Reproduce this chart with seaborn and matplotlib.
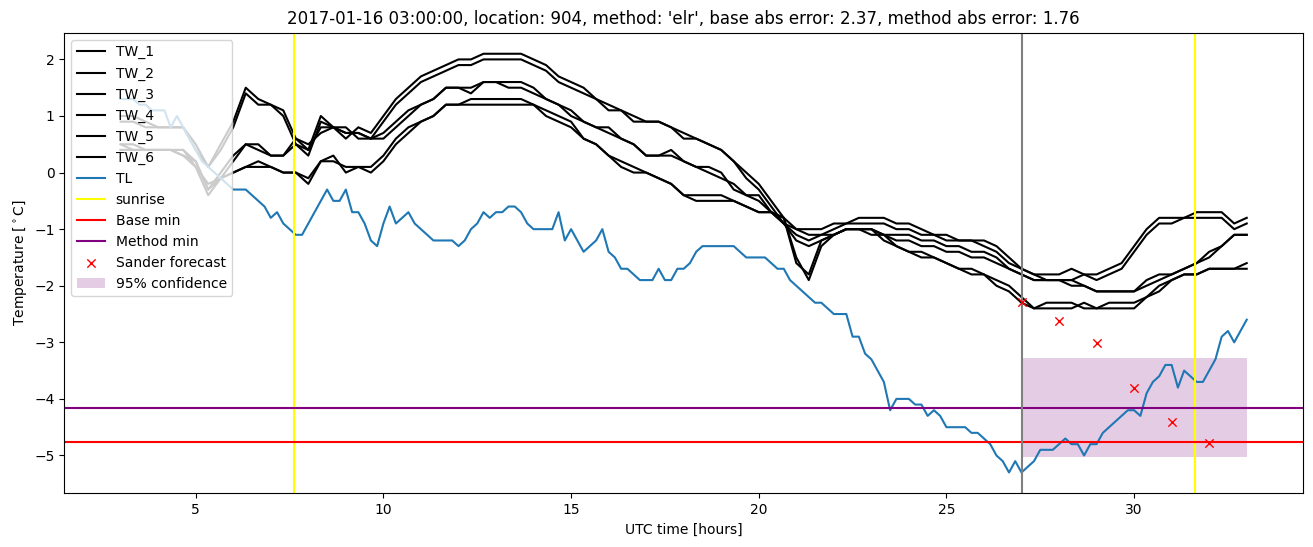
import numpy as np
import matplotlib
matplotlib.use('Agg')
import matplotlib.pyplot as plt
import seaborn as sns

# time grids (hours, UTC)
tl_hours = np.round(np.arange(3, 33 + 1e-9, 1 / 6), 3)
tw_hours = np.round(np.arange(3, 33 + 1e-9, 1 / 3), 3)

# air temperature, 10 min steps
tl = [1.3, 1.3, 1.3, 1.2, 1.2, 1.1,
      1.1, 1.1, 0.8, 1.0, 0.8, 0.6,
      0.4, 0.2, 0.1, 0.0, -0.1, -0.2,
      -0.3, -0.3, -0.3, -0.4, -0.5, -0.6,
      -0.8, -0.7, -0.9, -1.0, -1.1, -1.1,
      -0.9, -0.7, -0.5, -0.3, -0.5, -0.5,
      -0.3, -0.7, -0.7, -0.9, -1.2, -1.3,
      -0.9, -0.6, -0.9, -0.8, -0.7, -0.9,
      -1.0, -1.1, -1.2, -1.2, -1.2, -1.2,
      -1.3, -1.2, -1.0, -0.9, -0.7, -0.8,
      -0.7, -0.7, -0.6, -0.6, -0.7, -0.9,
      -1.0, -1.0, -1.0, -1.0, -0.7, -1.2,
      -1.0, -1.2, -1.4, -1.3, -1.2, -1.0,
      -1.4, -1.5, -1.7, -1.7, -1.8, -1.9,
      -1.9, -1.9, -1.7, -1.9, -1.9, -1.7,
      -1.7, -1.6, -1.4, -1.3, -1.3, -1.3,
      -1.3, -1.3, -1.3, -1.4, -1.5, -1.5,
      -1.5, -1.5, -1.6, -1.7, -1.7, -1.9,
      -2.0, -2.1, -2.2, -2.3, -2.3, -2.4,
      -2.5, -2.5, -2.5, -2.9, -2.9, -3.2,
      -3.3, -3.5, -3.7, -4.2, -4.0, -4.0,
      -4.0, -4.1, -4.1, -4.3, -4.2, -4.3,
      -4.5, -4.5, -4.5, -4.5, -4.6, -4.6,
      -4.7, -4.8, -5.0, -5.1, -5.3, -5.1,
      -5.3, -5.2, -5.1, -4.9, -4.9, -4.9,
      -4.8, -4.7, -4.8, -4.8, -5.0, -4.8,
      -4.8, -4.6, -4.5, -4.4, -4.3, -4.2,
      -4.2, -4.3, -3.9, -3.7, -3.6, -3.4,
      -3.4, -3.8, -3.5, -3.6, -3.7, -3.7,
      -3.5, -3.3, -2.9, -2.8, -3.0, -2.8,
      -2.6]

# road / wall sensors, 20 min steps
tw_1 = [1.0, 1.0, 0.9, 0.8, 0.8, 0.8, 0.5, 0.1, 0.5, 0.9, 1.5, 1.3,
        1.2, 1.1, 0.6, 0.4, 1.0, 0.8, 0.6, 0.8, 0.7, 1.0, 1.3, 1.5,
        1.7, 1.8, 1.9, 2.0, 2.0, 2.1, 2.1, 2.1, 2.1, 2.0, 1.9, 1.7,
        1.6, 1.5, 1.3, 1.2, 1.1, 1.0, 0.9, 0.9, 0.8, 0.7, 0.6, 0.5,
        0.4, 0.2, 0.0, -0.2, -0.5, -0.8, -1.0, -1.0, -1.0, -0.9, -0.9, -0.8,
        -0.8, -0.8, -0.9, -0.9, -1.0, -1.1, -1.1, -1.2, -1.2, -1.2, -1.3, -1.5,
        -1.7, -1.8, -1.8, -1.8, -1.7, -1.8, -1.8, -1.7, -1.6, -1.3, -1.0, -0.8,
        -0.8, -0.8, -0.7, -0.7, -0.7, -0.9, -0.8]
tw_2 = [0.9, 0.9, 0.8, 0.8, 0.8, 0.8, 0.4, 0.1, 0.4, 0.8, 1.4, 1.2,
        1.2, 1.0, 0.5, 0.3, 0.9, 0.8, 0.7, 0.7, 0.6, 0.9, 1.2, 1.4,
        1.6, 1.7, 1.8, 1.9, 1.9, 2.0, 2.0, 2.0, 2.0, 1.9, 1.8, 1.6,
        1.5, 1.4, 1.3, 1.1, 1.1, 0.9, 0.9, 0.9, 0.8, 0.6, 0.6, 0.5,
        0.4, 0.2, -0.1, -0.3, -0.6, -0.9, -1.0, -1.1, -1.1, -1.0, -0.9, -0.9,
        -0.9, -0.9, -1.0, -1.0, -1.1, -1.1, -1.2, -1.2, -1.2, -1.3, -1.4, -1.6,
        -1.7, -1.8, -1.9, -1.9, -1.9, -1.8, -1.9, -1.8, -1.7, -1.4, -1.1, -0.9,
        -0.9, -0.8, -0.8, -0.8, -0.8, -1.0, -0.9]
tw_3 = [0.5, 0.5, 0.4, 0.4, 0.4, 0.4, 0.2, -0.3, 0.0, 0.3, 0.5, 0.4,
        0.3, 0.3, 0.5, 0.4, 0.8, 0.8, 0.7, 0.7, 0.6, 0.7, 0.9, 1.1,
        1.2, 1.3, 1.5, 1.5, 1.5, 1.6, 1.6, 1.5, 1.5, 1.4, 1.3, 1.2,
        1.1, 0.9, 0.8, 0.8, 0.6, 0.5, 0.3, 0.3, 0.4, 0.2, 0.1, 0.1,
        0.0, -0.3, -0.4, -0.4, -0.7, -0.9, -1.1, -1.2, -1.1, -1.1, -1.0, -1.0,
        -1.0, -1.1, -1.1, -1.1, -1.2, -1.2, -1.3, -1.3, -1.4, -1.4, -1.5, -1.7,
        -1.8, -1.9, -1.9, -1.9, -1.9, -2.0, -2.1, -2.1, -2.1, -2.1, -1.9, -1.8,
        -1.8, -1.7, -1.6, -1.4, -1.3, -1.1, -1.1]
tw_4 = [0.4, 0.4, 0.4, 0.4, 0.4, 0.4, 0.1, -0.4, -0.1, 0.2, 0.5, 0.5,
        0.3, 0.3, 0.6, 0.5, 0.7, 0.8, 0.8, 0.6, 0.6, 0.6, 0.8, 1.0,
        1.2, 1.3, 1.5, 1.5, 1.4, 1.6, 1.6, 1.6, 1.6, 1.5, 1.3, 1.2,
        1.0, 0.9, 0.8, 0.7, 0.6, 0.5, 0.3, 0.3, 0.3, 0.2, 0.1, 0.0,
        -0.1, -0.2, -0.4, -0.5, -0.7, -0.9, -1.2, -1.3, -1.2, -1.1, -1.0, -1.0,
        -1.1, -1.1, -1.2, -1.2, -1.3, -1.3, -1.4, -1.4, -1.5, -1.5, -1.6, -1.7,
        -1.8, -1.9, -1.9, -1.9, -2.0, -2.0, -2.1, -2.1, -2.1, -2.1, -2.0, -1.9,
        -1.8, -1.7, -1.6, -1.5, -1.3, -1.1, -1.1]
tw_5 = [0.5, 0.4, 0.4, 0.4, 0.4, 0.3, 0.2, -0.3, -0.1, 0.0, 0.1, 0.2,
        0.1, 0.0, 0.0, -0.1, 0.2, 0.2, 0.1, 0.1, 0.1, 0.3, 0.6, 0.8,
        0.9, 1.0, 1.2, 1.2, 1.3, 1.3, 1.3, 1.3, 1.3, 1.2, 1.1, 1.0,
        0.9, 0.6, 0.5, 0.3, 0.2, 0.1, 0.0, -0.1, -0.2, -0.4, -0.4, -0.4,
        -0.4, -0.5, -0.6, -0.7, -0.7, -0.8, -1.5, -1.9, -1.3, -1.1, -1.0, -1.0,
        -1.0, -1.1, -1.3, -1.4, -1.4, -1.5, -1.6, -1.7, -1.7, -1.8, -1.9, -2.0,
        -2.2, -2.4, -2.3, -2.3, -2.3, -2.4, -2.4, -2.3, -2.3, -2.3, -2.2, -2.0,
        -1.9, -1.8, -1.8, -1.7, -1.7, -1.7, -1.6]
tw_6 = [0.4, 0.4, 0.4, 0.4, 0.4, 0.3, 0.1, -0.2, -0.1, 0.0, 0.1, 0.1,
        0.1, 0.0, 0.0, -0.2, 0.2, 0.3, 0.0, 0.1, 0.0, 0.2, 0.5, 0.7,
        0.9, 1.0, 1.2, 1.2, 1.2, 1.2, 1.2, 1.2, 1.2, 1.2, 1.0, 0.9,
        0.8, 0.6, 0.5, 0.3, 0.1, 0.0, 0.0, -0.1, -0.2, -0.4, -0.5, -0.5,
        -0.5, -0.5, -0.6, -0.7, -0.7, -0.8, -1.6, -1.8, -1.2, -1.1, -1.0, -1.0,
        -1.0, -1.2, -1.3, -1.4, -1.5, -1.5, -1.6, -1.7, -1.8, -1.8, -2.0, -2.1,
        -2.3, -2.4, -2.4, -2.4, -2.4, -2.3, -2.4, -2.4, -2.4, -2.4, -2.2, -2.1,
        -1.9, -1.8, -1.8, -1.7, -1.7, -1.7, -1.7]
tw_series = {'TW_1': tw_1, 'TW_2': tw_2, 'TW_3': tw_3,
             'TW_4': tw_4, 'TW_5': tw_5, 'TW_6': tw_6}

sunrise_hours = [7.63, 31.62]
forecast_start = 27
base_min = -4.77
method_min = -4.16
sander_hours = [27, 28, 29, 30, 31, 32]
sander_temp = [-2.29, -2.63, -3.02, -3.81, -4.40, -4.78]
conf_hours = [27, 33]
conf_low = -5.02
conf_high = -3.27

title = ("2017-01-16 03:00:00, location: 904, method: 'elr', "
         "base abs error: 2.37, method abs error: 1.76")

fig, ax = plt.subplots(figsize=(13.13, 5.47), dpi=100)
fig.subplots_adjust(left=0.049, right=0.9924, top=0.940, bottom=0.098)

for name, vals in tw_series.items():
    sns.lineplot(x=tw_hours, y=vals, color='black', label=name, ax=ax)
sns.lineplot(x=tl_hours, y=tl, color='tab:blue', label='TL', ax=ax)

for i, h in enumerate(sunrise_hours):
    ax.axvline(h, color='yellow', label='sunrise' if i == 0 else None)
ax.axhline(base_min, color='red', label='Base min')
ax.axhline(method_min, color='purple', label='Method min')
ax.axvline(forecast_start, color='gray')
sns.scatterplot(x=sander_hours, y=sander_temp, marker='x', color='red',
                s=36, linewidth=1.0, label='Sander forecast', ax=ax, zorder=3)
ax.fill_between(conf_hours, conf_low, conf_high, color='purple', alpha=0.2,
                linewidth=0, label='95% confidence')

ax.set_xlim(1.5, 34.5)
ax.set_ylim(-5.67, 2.47)
ax.set_title(title)
ax.set_xlabel('UTC time [hours]')
ax.set_ylabel(r'Temperature [$^\circ$C]')
ax.legend(loc='upper left')

plt.savefig('out.png')
